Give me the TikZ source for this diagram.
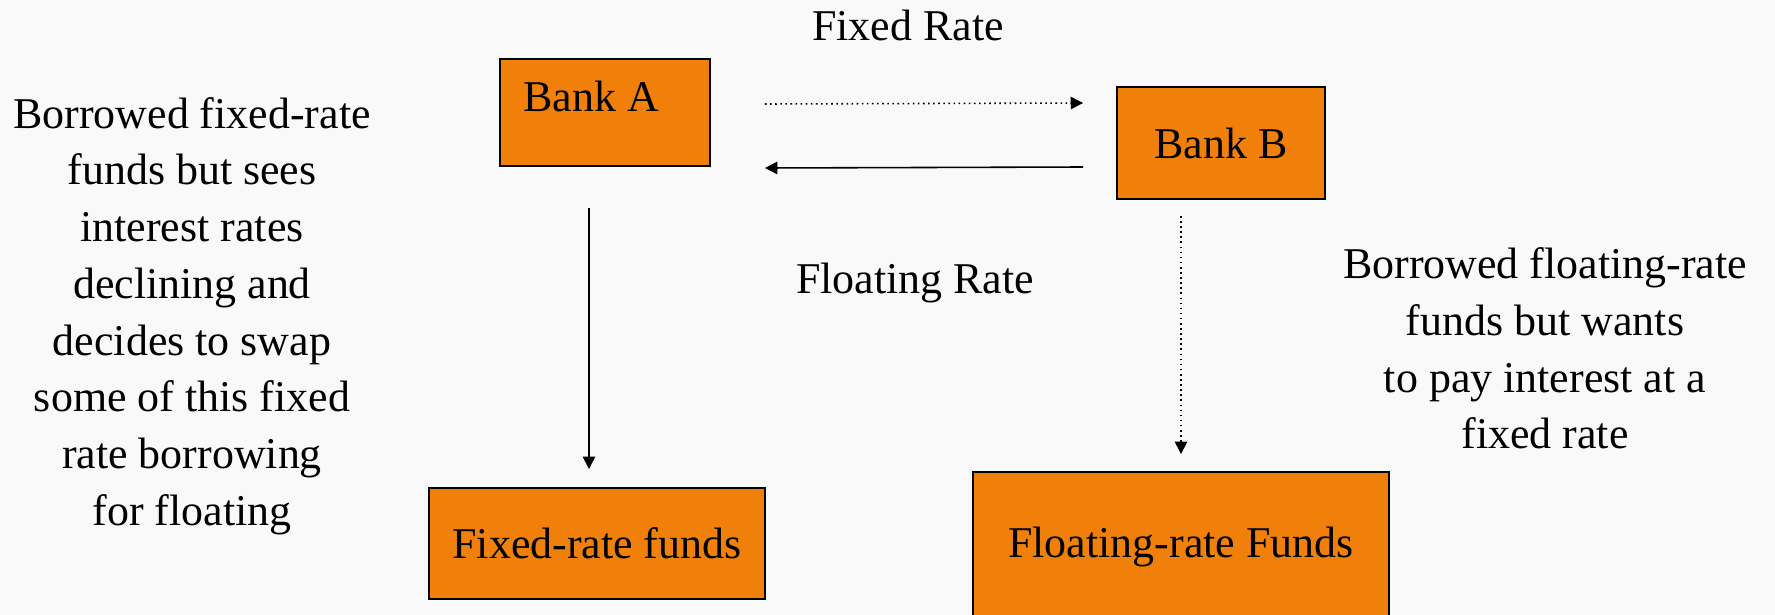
\documentclass[tikz,border=0pt]{standalone}
\usepackage{fontspec}
\setmainfont{Liberation Serif}
\usetikzlibrary{arrows.meta}
\definecolor{bankorange}{RGB}{240,128,10}
\definecolor{slidebg}{RGB}{249,249,249}
\begin{document}
\begin{tikzpicture}[
    box/.style={draw=black, line width=1.1pt, fill=bankorange, inner sep=0pt},
    txt/.style={font=\fontsize{25}{32.3}\selectfont, align=center, inner sep=0pt},
    flow/.style={line width=0.9pt, -{Triangle[length=7pt, width=7pt]}}
  ]
  % background
  \fill[slidebg] (0,0) rectangle (35.5,-12.3);
  \useasboundingbox (0,0) rectangle (35.5,-12.3);
  % banks and funds
  \node[box, minimum width=4.2cm, minimum height=2.14cm] (bankA) at (12.1,-2.25) {};
  \node[txt] (bankAtext) at ([xshift=-0.28cm, yshift=0.33cm]bankA.center) {Bank A};
  \node[box, txt, minimum width=4.16cm, minimum height=2.24cm] (bankB) at (24.42,-2.86) {Bank B};
  \node[box, txt, minimum width=6.72cm, minimum height=2.22cm] (fixedFunds) at (11.94,-10.87) {Fixed-rate funds};
  \node[box, txt, minimum width=8.32cm, minimum height=3.0cm] (floatFunds) at (23.62,-10.94) {Floating-rate Funds};
  % swap arrows
  \draw[flow, dotted] ([xshift=1.08cm, yshift=0.17cm]bankA.east) -- ([xshift=-0.66cm, yshift=0.8cm]bankB.west);
  \draw[flow] ([xshift=-0.66cm, yshift=-0.48cm]bankB.west) -- ([xshift=1.08cm, yshift=-1.11cm]bankA.east);
  \draw[flow] ([xshift=-0.32cm, yshift=-0.82cm]bankA.south) -- ([xshift=-0.16cm, yshift=0.36cm]fixedFunds.north);
  \draw[flow, dotted] ([xshift=-0.8cm, yshift=-0.32cm]bankB.south) -- ([yshift=0.34cm]floatFunds.north);
  % labels
  \node[txt] (fixedLbl) at (18.16,-0.5) {Fixed Rate};
  \node[txt] (floatLbl) at (18.3,-5.66) {Floating Rate};
  \node[txt] (bankAnote) at (3.84,-6.32) {Borrowed fixed-rate\\funds but sees\\interest rates\\declining and\\decides to swap\\some of this fixed\\rate borrowing\\for floating};
  \node[txt] (bankBnote) at (30.9,-6.97) {Borrowed floating-rate\\funds but wants\\to pay interest at a\\fixed rate};
\end{tikzpicture}
\end{document}
